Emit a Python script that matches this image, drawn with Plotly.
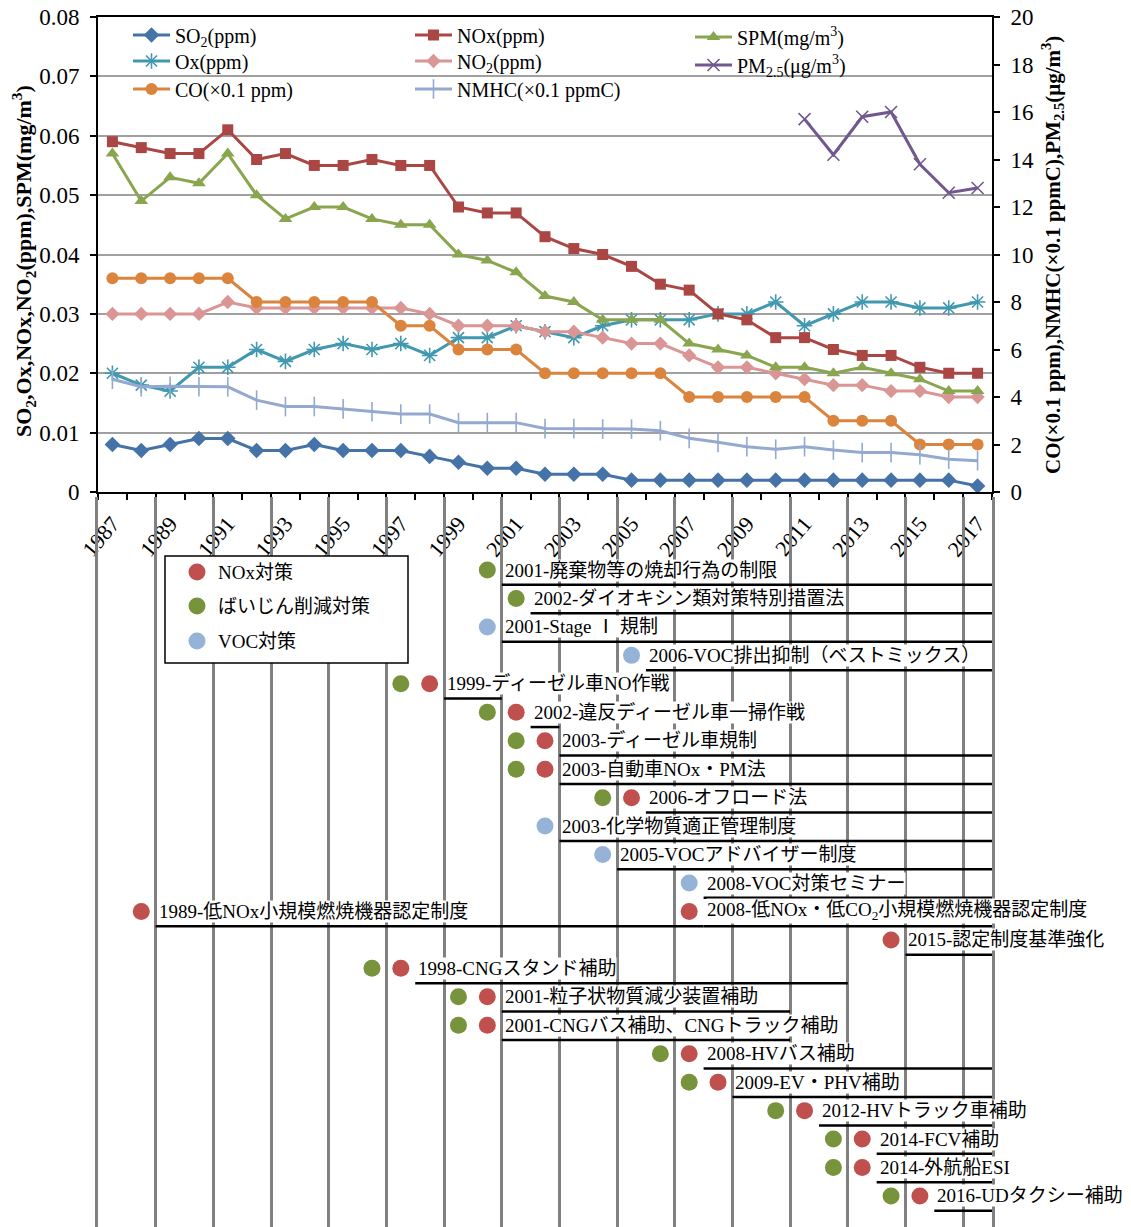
import plotly.graph_objects as go

# ---------------- data: air quality (annual means) ----------------
years = list(range(1987, 2018))
so2 = [0.008, 0.007, 0.008, 0.009, 0.009, 0.007, 0.007, 0.008, 0.007, 0.007, 0.007, 0.006, 0.005, 0.004, 0.004,
       0.003, 0.003, 0.003, 0.002, 0.002, 0.002, 0.002, 0.002, 0.002, 0.002, 0.002, 0.002, 0.002, 0.002, 0.002, 0.001]
nox = [0.059, 0.058, 0.057, 0.057, 0.061, 0.056, 0.057, 0.055, 0.055, 0.056, 0.055, 0.055, 0.048, 0.047, 0.047,
       0.043, 0.041, 0.040, 0.038, 0.035, 0.034, 0.030, 0.029, 0.026, 0.026, 0.024, 0.023, 0.023, 0.021, 0.020, 0.020]
spm = [0.057, 0.049, 0.053, 0.052, 0.057, 0.050, 0.046, 0.048, 0.048, 0.046, 0.045, 0.045, 0.040, 0.039, 0.037,
       0.033, 0.032, 0.029, 0.029, 0.029, 0.025, 0.024, 0.023, 0.021, 0.021, 0.020, 0.021, 0.020, 0.019, 0.017, 0.017]
ox = [0.020, 0.018, 0.017, 0.021, 0.021, 0.024, 0.022, 0.024, 0.025, 0.024, 0.025, 0.023, 0.026, 0.026, 0.028,
      0.027, 0.026, 0.028, 0.029, 0.029, 0.029, 0.030, 0.030, 0.032, 0.028, 0.030, 0.032, 0.032, 0.031, 0.031, 0.032]
no2 = [0.030, 0.030, 0.030, 0.030, 0.032, 0.031, 0.031, 0.031, 0.031, 0.031, 0.031, 0.030, 0.028, 0.028, 0.028,
       0.027, 0.027, 0.026, 0.025, 0.025, 0.023, 0.021, 0.021, 0.020, 0.019, 0.018, 0.018, 0.017, 0.017, 0.016, 0.016]
co = [9, 9, 9, 9, 9, 8, 8, 8, 8, 8, 7, 7, 6, 6, 6, 5, 5, 5, 5, 5, 4, 4, 4, 4, 4, 3, 3, 3, 2, 2, 2]
nmhc = [4.75, 4.43, 4.45, 4.43, 4.43, 3.87, 3.6, 3.6, 3.5, 3.38, 3.28, 3.28, 2.92, 2.92, 2.92,
        2.67, 2.67, 2.65, 2.65, 2.58, 2.26, 2.09, 1.91, 1.8, 1.91, 1.77, 1.66, 1.66, 1.57, 1.38, 1.32]
pm_years = [2011, 2012, 2013, 2014, 2015, 2016, 2017]
pm25 = [15.7, 14.2, 15.8, 16.0, 13.8, 12.6, 12.8]

tick_years = list(range(1987, 2018, 2))
left_ticks = [0, 0.01, 0.02, 0.03, 0.04, 0.05, 0.06, 0.07, 0.08]
left_ticktext = ["0", "0.01", "0.02", "0.03", "0.04", "0.05", "0.06", "0.07", "0.08"]
right_ticks = [0, 2, 4, 6, 8, 10, 12, 14, 16, 18, 20]

# ---------------- data: policy measures ----------------
measures = ["2001-廃棄物等の焼却行為の制限", "2002-ダイオキシン類対策特別措置法", "2001-Stage Ⅰ 規制",
            "2006-VOC排出抑制（ベストミックス）", "1999-ディーゼル車NO作戦", "2002-違反ディーゼル車一掃作戦",
            "2003-ディーゼル車規制", "2003-自動車NOx・PM法", "2006-オフロード法", "2003-化学物質適正管理制度",
            "2005-VOCアドバイザー制度", "2008-VOC対策セミナー", "1989-低NOx小規模燃焼機器認定制度",
            "2008-低NOx・低CO<sub>2</sub>小規模燃焼機器認定制度", "2015-認定制度基準強化", "1998-CNGスタンド補助",
            "2001-粒子状物質減少装置補助", "2001-CNGバス補助、CNGトラック補助", "2008-HVバス補助",
            "2009-EV・PHV補助", "2012-HVトラック車補助", "2014-FCV補助", "2014-外航船ESI", "2016-UDタクシー補助"]
measure_start = [2001, 2002, 2001, 2006, 1999, 2002, 2003, 2003, 2006, 2003, 2005, 2008, 1989, 2008, 2015, 1998,
                 2001, 2001, 2008, 2009, 2012, 2014, 2014, 2016]
measure_end = [2017, 2017, 2017, 2017, 2000, 2002, 2017, 2017, 2017, 2017, 2017, 2017, 2007, 2017, 2017, 2012,
               2010, 2010, 2017, 2017, 2017, 2017, 2017, 2017]
measure_row = [1, 2, 3, 4, 5, 6, 7, 8, 9, 10, 11, 12, 13, 13, 14, 15, 16, 17, 18, 19, 20, 21, 22, 23]
measure_type = ["dust", "dust", "voc", "voc", "dust+nox", "dust+nox", "dust+nox", "dust+nox", "dust+nox", "voc",
                "voc", "voc", "nox", "nox", "nox", "dust+nox", "dust+nox", "dust+nox", "dust+nox", "dust+nox",
                "dust+nox", "dust+nox", "dust+nox", "dust+nox"]
type_names = {"nox": "NOx対策", "dust": "ばいじん削減対策", "voc": "VOC対策"}

# ---------------- styles ----------------
FONT = "Liberation Serif, Times New Roman, Noto Sans CJK JP, serif"
OFF = 8  # default page body margin
W, H = 1131 - OFF, 1227 - OFF
ML, MR, MT, MB = 98 - OFF, 139, 17 - OFF, 0
PW, PH = W - ML - MR, H - MT - MB


def px_x(p):
    return (p - OFF - ML) / PW


def px_y(p):
    return (H + OFF - MB - p) / PH


type_color = {"nox": "#C0504D", "dust": "#77933C", "voc": "#95B3D7"}

fig = go.Figure()

series = [
    ("SO<sub>2</sub>(ppm)", years, so2, "y", "#4572A7", "diamond", 12, 135, 35),
    ("Ox(ppm)", years, ox, "y", "#4198AF", "asterisk-open", 13, 135, 61),
    ("CO(×0.1 ppm)", years, co, "y2", "#DB843D", "circle", 12, 135, 89),
    ("NOx(ppm)", years, nox, "y", "#AA4643", "square", 11, 417, 35),
    ("NO<sub>2</sub>(ppm)", years, no2, "y", "#D99694", "diamond", 11, 417, 61),
    ("NMHC(×0.1 ppmC)", years, nmhc, "y2", "#93A9CF", "line-ns-open", 14, 417, 89),
    ("SPM(mg/m<sup>3</sup>)", years, spm, "y", "#89A54E", "triangle-up", 12, 697, 37),
    ("PM<sub>2.5</sub>(μg/m<sup>3</sup>)", pm_years, pm25, "y2", "#71588F", "x-thin-open", 12, 697, 65),
]
legend_layouts = {}
for i, (name, xs, ys, yax, col, sym, size, lx, ly) in enumerate(series):
    lg = "legend" if i == 0 else f"legend{i + 1}"
    fig.add_trace(go.Scatter(
        x=xs, y=ys, name=name, yaxis=yax, xaxis="x", mode="lines+markers",
        line=dict(color=col, width=3),
        marker=dict(symbol=sym, size=size, color=col, line=dict(color=col, width=1.6 if "open" in sym else 0)),
        legend=lg, showlegend=True))
    legend_layouts[lg] = dict(x=px_x(lx - 7), y=px_y(ly), xanchor="left", yanchor="middle",
                              bgcolor="rgba(0,0,0,0)", borderwidth=0, itemwidth=37,
                              font=dict(family=FONT, size=20, color="black"))

# timeline dots
dots = {k: ([], []) for k in type_color}
for s, r, t in zip(measure_start, measure_row, measure_type):
    cats = t.split("+")
    for i, c in enumerate(reversed(cats)):
        dots[c][0].append(s - 1 - i)
        dots[c][1].append(r)
for c, (dx, dy) in dots.items():
    fig.add_trace(go.Scatter(x=dx, y=dy, xaxis="x2", yaxis="y3", mode="markers",
                             marker=dict(size=17, color=type_color[c]), showlegend=False, hoverinfo="skip"))

shapes = []
annotations = []
# underlines + labels
for txt, s, e, r in zip(measures, measure_start, measure_end, measure_row):
    shapes.append(dict(type="line", xref="x2", yref="y3", x0=s - 0.5, x1=e + 0.5, y0=r + 0.52, y1=r + 0.52,
                       line=dict(color="black", width=2.5), layer="above"))
    annotations.append(dict(text=txt, xref="x2", yref="y3", x=s - 0.5, y=r, xanchor="left", yanchor="middle",
                            showarrow=False, bgcolor="white", borderpad=0, xshift=2,
                            font=dict(family=FONT, size=19, color="black")))

# policy legend box
shapes.append(dict(type="rect", xref="paper", yref="paper", x0=px_x(165), x1=px_x(408), y0=px_y(663),
                   y1=px_y(556), fillcolor="white", line=dict(color="black", width=1.5), layer="above"))
for (k, lab), py in zip(type_names.items(), [572, 606, 641]):
    shapes.append(dict(type="circle", xref="paper", yref="paper", xsizemode="pixel", ysizemode="pixel",
                       xanchor=px_x(197), yanchor=px_y(py), x0=-8.5, x1=8.5, y0=-8.5, y1=8.5,
                       fillcolor=type_color[k], line=dict(width=0), layer="above"))
    annotations.append(dict(text=lab, xref="paper", yref="paper", x=px_x(216), y=px_y(py), xanchor="left",
                            yanchor="middle", showarrow=False, font=dict(family=FONT, size=19, color="black")))

# axis titles
annotations.append(dict(text="<b>SO<sub>2</sub>,Ox,NOx,NO<sub>2</sub>(ppm),SPM(mg/m<sup>3</sup>)</b>",
                        xref="paper", yref="paper", x=0, y=px_y(261), xshift=-75, xanchor="center",
                        yanchor="middle", textangle=-90, showarrow=False,
                        font=dict(family=FONT, size=22, color="black")))
annotations.append(dict(text="<b>CO(×0.1 ppm),NMHC(×0.1 ppmC),PM<sub>2.5</sub>(μg/m<sup>3</sup>)</b>",
                        xref="paper", yref="paper", x=1, y=px_y(255), xshift=60, xanchor="center",
                        yanchor="middle", textangle=-90, showarrow=False,
                        font=dict(family=FONT, size=21, color="black")))

boundaries2 = [1986.5 + 2 * i for i in range(16)] + [2017.5]
main_bottom = px_y(492)
tl_top = px_y(497)

fig.update_layout(
    width=W, height=H, margin=dict(l=ML, r=MR, t=MT, b=MB, autoexpand=False),
    paper_bgcolor="white", plot_bgcolor="white",
    font=dict(family=FONT, size=18, color="black"),
    xaxis=dict(domain=[0, 1], anchor="y", range=[1986.5, 2017.5], tickmode="array", tickvals=tick_years,
               ticktext=[str(y) for y in tick_years], tickangle=-50, ticks="outside", ticklen=8,
               tickcolor="rgba(0,0,0,0)", tickfont=dict(family=FONT, size=22, color="black"),
               showline=True, linecolor="black", linewidth=2, mirror=True, showgrid=False, zeroline=False,
               automargin=False, ticklabeloverflow="allow",
               minor=dict(ticks="outside", tick0=1986.5, dtick=1, ticklen=6, tickwidth=1.5, tickcolor="black",
                          showgrid=False)),
    yaxis=dict(domain=[main_bottom, 1], anchor="x", range=[0, 0.08], tickmode="array", tickvals=left_ticks,
               ticktext=left_ticktext, ticks="outside", ticklen=6, tickwidth=1.5, tickcolor="black",
               tickfont=dict(family=FONT, size=23, color="black"), ticklabelstandoff=6, automargin=False,
               ticklabeloverflow="allow",
               showline=True, linecolor="black", linewidth=2, showgrid=True, gridcolor="#A0A0A0", gridwidth=2,
               zeroline=False),
    yaxis2=dict(overlaying="y", side="right", anchor="x", range=[0, 20], tickmode="array", tickvals=right_ticks,
                ticks="outside", ticklen=6, tickwidth=1.5, tickcolor="black", ticklabelstandoff=6,
                ticklabeloverflow="allow",
                tickfont=dict(family=FONT, size=23, color="black"), showline=True, linecolor="black",
                linewidth=2, showgrid=False, zeroline=False, automargin=False),
    xaxis2=dict(domain=[0, 1], anchor="y3", matches="x", range=[1986.5, 2017.5], tickmode="array",
                tickvals=boundaries2, showticklabels=False, ticks="", showgrid=True, gridcolor="#808080",
                gridwidth=2.5, showline=False, zeroline=False, automargin=False),
    yaxis3=dict(domain=[0, tl_top], anchor="x2", range=[24.09, -1.566], showticklabels=False, ticks="",
                showgrid=False, zeroline=False, showline=True, mirror=True, linecolor="#808080", linewidth=2.5,
                automargin=False),
    shapes=shapes, annotations=annotations, hovermode=False,
    **legend_layouts,
)

fig.write_html("out.html", config={"displayModeBar": False})
